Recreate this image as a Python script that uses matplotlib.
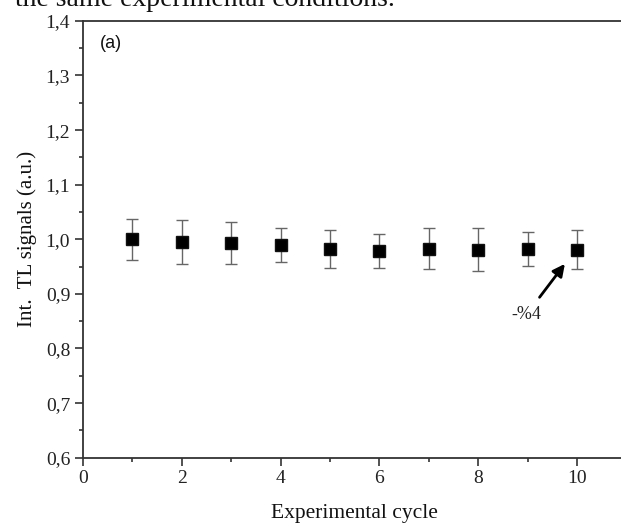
import matplotlib
matplotlib.use("Agg")
import matplotlib.pyplot as plt
from matplotlib.ticker import MultipleLocator, FuncFormatter

# Integrated TL signal per experimental cycle (normalised to the first cycle)
cycles = [1, 2, 3, 4, 5, 6, 7, 8, 9, 10]
tl_signal = [1.000, 0.995, 0.993, 0.990, 0.982, 0.979, 0.983, 0.981, 0.982, 0.981]
tl_error = [0.038, 0.041, 0.038, 0.031, 0.035, 0.031, 0.038, 0.039, 0.031, 0.036]

x_ticks = [0, 2, 4, 6, 8, 10]
y_ticks = [0.6, 0.7, 0.8, 0.9, 1.0, 1.1, 1.2, 1.3, 1.4]

serif = "Liberation Serif"
sans = "Liberation Sans"

fig = plt.figure(figsize=(6.21, 5.26), dpi=100)
fig.patch.set_facecolor("white")

# caption line of the surrounding text
fig.text(15 / 621, 1 - 6 / 526, "the same experimental conditions.",
         family=serif, fontsize=20, ha="left", va="baseline", color="#111111")

ax = fig.add_axes([82.7 / 621, 68.3 / 526, 544.0 / 621, 436.8 / 526])
ax.set_xlim(0, 11)
ax.set_ylim(0.6, 1.4)

ax.errorbar(cycles, tl_signal, yerr=tl_error, fmt="s", color="black",
            markersize=8.8, markeredgecolor="#111111", ecolor="#666666",
            elinewidth=1.0, capsize=4.5, capthick=1.0, zorder=3)

for side in ["left", "bottom", "top", "right"]:
    ax.spines[side].set_linewidth(1.3)
    ax.spines[side].set_color("#333333")

ax.set_xticks(x_ticks)
ax.set_yticks(y_ticks)
ax.xaxis.set_minor_locator(MultipleLocator(1))
ax.yaxis.set_minor_locator(MultipleLocator(0.05))
ax.yaxis.set_major_formatter(FuncFormatter(lambda v, p: f"{v:.1f}".replace(".", ",")))
ax.xaxis.set_major_formatter(FuncFormatter(lambda v, p: f"{v:.0f}"))

ax.tick_params(axis="both", which="major", direction="out", length=6, width=1.2,
               color="#333333", labelsize=14, pad=3)
ax.tick_params(axis="both", which="minor", direction="out", length=3, width=1.2,
               color="#333333")
ax.tick_params(top=False, right=False, which="both")
for lab in ax.get_xticklabels() + ax.get_yticklabels():
    lab.set_fontfamily(serif)
    lab.set_color("#222222")

ax.set_xlabel("Experimental cycle", family=serif, fontsize=15.5, labelpad=12, color="#111111")
ax.set_ylabel("Int.  TL signals (a.u.)", family=serif, fontsize=15, labelpad=6, color="#111111")

ax.text(0.35, 1.358, "(a)", family=sans, fontsize=13, ha="left", va="center", color="#111111")

ax.annotate("-%4", xy=(9.75, 0.955), xytext=(8.98, 0.863),
            family=serif, fontsize=13, ha="center", va="center", color="#222222",
            arrowprops=dict(arrowstyle="-|>", color="black", lw=2.0,
                            mutation_scale=18, shrinkA=5, shrinkB=0))

fig.savefig("out.png", dpi=100)
